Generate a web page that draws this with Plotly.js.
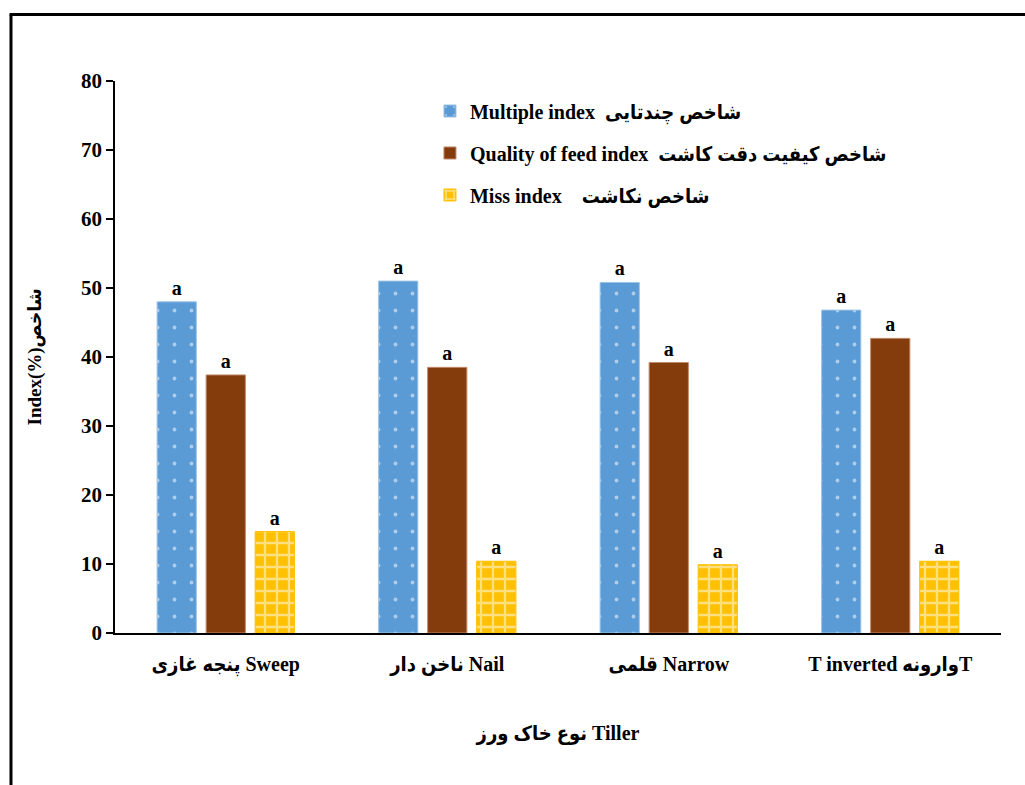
<!DOCTYPE html>
<html>
<head>
<meta charset="utf-8">
<script src="https://cdn.plot.ly/plotly-3.0.1.min.js"></script>
<style>html,body{margin:0;padding:0;background:#fff;}#chart{width:1025px;height:785px;}</style>
</head>
<body>
<div id="chart"></div>
<script>
var categories = ["پنجه غازی Sweep", "ناخن دار Nail", "قلمی Narrow", "T inverted وارونهT"];
var seriesNames = ["Multiple index  شاخص چندتایی", "Quality of feed index  شاخص کیفیت دقت کاشت", "Miss index    شاخص نکاشت"];
var multipleIndex = [48.0, 51.0, 50.8, 46.8];
var qualityIndex = [37.4, 38.5, 39.2, 42.7];
var missIndex = [14.7, 10.4, 9.9, 10.4];
var letters = ["a", "a", "a", "a"];
var yTicks = [0, 10, 20, 30, 40, 50, 60, 70, 80];

var serif = "Liberation Serif, DejaVu Sans Condensed, DejaVu Sans, serif";
var textFont = {family: serif, size: 20, color: "#000", weight: "bold"};

function barTrace(name, values, color, pattern, lineColor, group) {
  return {
    type: "bar",
    name: name,
    x: categories,
    y: values,
    text: letters,
    textposition: "outside",
    cliponaxis: false,
    textfont: textFont,
    legendgroup: group,
    marker: {color: color, pattern: pattern, line: {color: lineColor, width: 1}},
    hoverinfo: "x+y"
  };
}

var data = [
  barTrace(seriesNames[0], multipleIndex, "#5B9BD5",
    {shape: ".", fgcolor: "#ffffff", bgcolor: "#5B9BD5", size: 17, solidity: 0.04, fillmode: "overlay"}, "#9DC3E6", "g1"),
  barTrace(seriesNames[1], qualityIndex, "#843C0C", {shape: ""}, "#C08A6A", "g2"),
  barTrace(seriesNames[2], missIndex, "#FFC000",
    {shape: "+", fgcolor: "#ffffff", bgcolor: "#FFC000", size: 12, solidity: 0.35, fillmode: "overlay"}, "#FFC000", "g3")
];

var layout = {
  width: 1025,
  height: 785,
  paper_bgcolor: "#ffffff",
  plot_bgcolor: "#ffffff",
  margin: {l: 115, r: 24, t: 81, b: 152},
  barmode: "group",
  bargap: 0.336,
  bargroupgap: 0.2,
  showlegend: true,
  legend: {
    x: 0.3555, y: 0.981, xanchor: "left", yanchor: "top",
    font: textFont,
    bgcolor: "rgba(0,0,0,0)",
    traceorder: "grouped",
    tracegroupgap: 13,
    itemwidth: 30
  },
  xaxis: {
    type: "category",
    showline: true, linecolor: "#000", linewidth: 2,
    ticks: "outside", ticklen: 12, tickcolor: "rgba(0,0,0,0)",
    tickfont: textFont,
    showgrid: false, zeroline: false,
    title: {text: "نوع خاک ورز Tiller", font: textFont, standoff: 50}
  },
  yaxis: {
    range: [0, 80],
    tickvals: yTicks,
    ticktext: yTicks.map(String),
    showline: true, linecolor: "#000", linewidth: 1.5,
    ticks: "outside", ticklen: 7, tickwidth: 1.5, tickcolor: "#000",
    tickfont: {family: serif, size: 21, color: "#000", weight: "bold"},
    showgrid: false, zeroline: false,
    title: {text: "Index(%)شاخص", font: {family: serif, size: 19, color: "#000", weight: "bold"}, standoff: 34}
  },
  shapes: [
    {type: "line", xref: "paper", yref: "paper", x0: -0.1174, x1: -0.1174, y0: 1.1205, y1: -0.3, line: {color: "#000", width: 3}},
    {type: "line", xref: "paper", yref: "paper", x0: -0.119, x1: 1.05, y0: 1.1205, y1: 1.1205, line: {color: "#000", width: 3}}
  ]
};

Plotly.newPlot("chart", data, layout, {displayModeBar: false, responsive: false});
</script>
</body>
</html>
